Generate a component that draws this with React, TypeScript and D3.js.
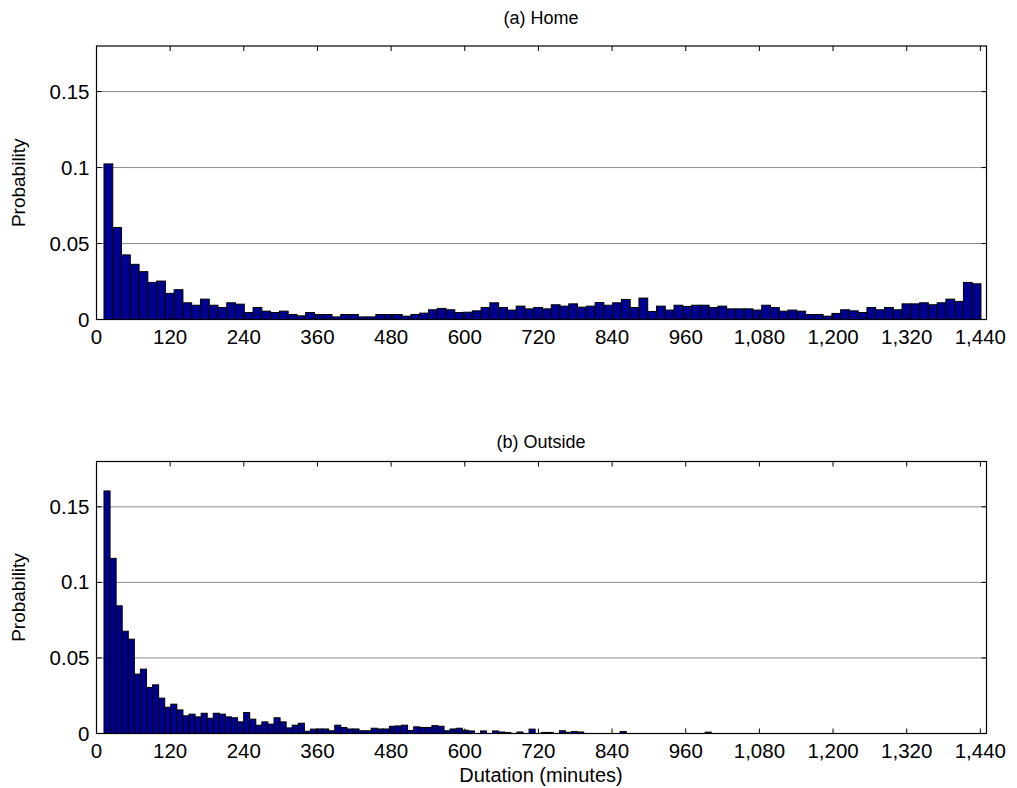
import React from 'react';
import * as d3 from 'd3';

const xTicks = [0, 120, 240, 360, 480, 600, 720, 840, 960, 1080, 1200, 1320, 1440];
const yTicks = [0, 0.05, 0.1, 0.15];
const yTickLabels = ['0', '0.05', '0.1', '0.15'];

const binStart = 12.2;
const homeBinWidth = 14.288;
const outsideBinWidth = 9.893;

const homeValues = [
  0.1024, 0.0605, 0.0425, 0.0363, 0.0315, 0.0244, 0.0253, 0.0172, 0.0196, 0.011,
  0.0094, 0.0134, 0.0094, 0.0079, 0.011, 0.0101, 0.0046, 0.0079, 0.0055, 0.0046,
  0.0055, 0.0033, 0.0024, 0.0046, 0.0033, 0.0033, 0.0017, 0.0033, 0.0033, 0.0017,
  0.0017, 0.0033, 0.0033, 0.0033, 0.0022, 0.0033, 0.0042, 0.0064, 0.0073, 0.0064,
  0.0046, 0.0048, 0.0057, 0.0079, 0.011, 0.0079, 0.0062, 0.0088, 0.007, 0.0079,
  0.007, 0.0097, 0.0088, 0.0103, 0.0081, 0.0088, 0.0112, 0.0094, 0.011, 0.0132,
  0.0079, 0.0141, 0.0053, 0.0088, 0.0062, 0.0094, 0.0086, 0.0094, 0.0094, 0.0079,
  0.0088, 0.007, 0.007, 0.007, 0.0062, 0.0094, 0.0079, 0.0055, 0.0062, 0.0055,
  0.0033, 0.0033, 0.0022, 0.004, 0.0064, 0.0057, 0.0046, 0.0079, 0.0064, 0.0079,
  0.0064, 0.0103, 0.0103, 0.011, 0.0097, 0.011, 0.0134, 0.0119, 0.0244, 0.0235,
];

const outsideValues = [
  0.1605, 0.1159, 0.0845, 0.0677, 0.0624, 0.0393, 0.0426, 0.0305, 0.0322, 0.0234,
  0.0174, 0.0194, 0.0156, 0.0117, 0.0128, 0.011, 0.0134, 0.0101, 0.0134, 0.0128,
  0.011, 0.0104, 0.0077, 0.0139, 0.0095, 0.0055, 0.0077, 0.0062, 0.0104, 0.0077,
  0.0037, 0.0055, 0.0068, 0.0015, 0.0029, 0.003, 0.003, 0.0018, 0.0055, 0.004,
  0.003, 0.003, 0.0018, 0.0018, 0.0035, 0.003, 0.003, 0.0048, 0.005, 0.0055,
  0.002, 0.0044, 0.004, 0.004, 0.0052, 0.0048, 0.0018, 0.003, 0.0035, 0.0022,
  0.0017, 0, 0.0017, 0, 0.0017, 0.001, 0.0007, 0, 0.001, 0,
  0.0029, 0, 0.0007, 0.0007, 0, 0.0018, 0.0008, 0.0013, 0.001, 0,
  0, 0, 0, 0, 0, 0.0013, 0, 0, 0, 0,
  0, 0, 0, 0, 0, 0, 0, 0, 0, 0.0009,
];

const FONT = '"Liberation Sans", Arial, Helvetica, sans-serif';
const BAR_FILL = '#000090';

const xScale = d3.scaleLinear().domain([0, 1450]).range([96.5, 986.5]);
const fmt = d3.format(',');

function Panel({ y0, y1, title, titleY, values, binWidth, xlabel }: any) {
  const y = d3.scaleLinear().domain([0, 0.18]).range([y0, y1]);
  const [xl, xr] = xScale.range();
  const tickLen = 5;
  return (
    <g>
      <text x={541} y={titleY} textAnchor="middle" fontSize={18} fontFamily={FONT}>{title}</text>
      {yTicks.filter((t) => t > 0).map((t) => (
        <line key={'g' + t} x1={xl} x2={xr} y1={y(t)} y2={y(t)} stroke="#8c8c8c" strokeWidth={1} />
      ))}
      {values.map((v: number, i: number) => {
        if (v <= 0) return null;
        const a = xScale(binStart + i * binWidth);
        const b = xScale(binStart + (i + 1) * binWidth);
        return (
          <rect key={i} x={a} y={y(v)} width={b - a} height={y(0) - y(v)} fill={BAR_FILL} stroke="#000" strokeWidth={1} />
        );
      })}
      <rect x={xl} y={y1} width={xr - xl} height={y0 - y1} fill="none" stroke="#000" strokeWidth={1.2} />
      {xTicks.map((t) => (
        <g key={'x' + t}>
          <line x1={xScale(t)} x2={xScale(t)} y1={y0} y2={y0 - tickLen} stroke="#000" />
          <line x1={xScale(t)} x2={xScale(t)} y1={y1} y2={y1 + tickLen} stroke="#000" />
          <text x={xScale(t)} y={y0 + 24} textAnchor="middle" fontSize={20.5} fontFamily={FONT}>{fmt(t)}</text>
        </g>
      ))}
      {yTicks.map((t, i) => (
        <g key={'y' + t}>
          <line x1={xl} x2={xl + tickLen} y1={y(t)} y2={y(t)} stroke="#000" />
          <line x1={xr} x2={xr - tickLen} y1={y(t)} y2={y(t)} stroke="#000" />
          <text x={xl - 7} y={y(t) + 7} textAnchor="end" fontSize={20.5} fontFamily={FONT}>{yTickLabels[i]}</text>
        </g>
      ))}
      <text transform={`translate(25, ${(y0 + y1) / 2}) rotate(-90)`} textAnchor="middle" fontSize={19} fontFamily={FONT}>Probability</text>
      {xlabel ? (
        <text x={541} y={y0 + 48} textAnchor="middle" fontSize={20} fontFamily={FONT}>{xlabel}</text>
      ) : null}
    </g>
  );
}

export default function App() {
  return (
    <svg width={1017} height={788} style={{ position: 'absolute', left: 0, top: 0, background: '#fff' }}>
      <rect width={1017} height={788} fill="#fff" />
      <Panel y0={319.5} y1={46} title="(a) Home" titleY={24} values={homeValues} binWidth={homeBinWidth} />
      <Panel y0={733.5} y1={461.5} title="(b) Outside" titleY={448} values={outsideValues} binWidth={outsideBinWidth} xlabel="Dutation (minutes)" />
    </svg>
  );
}
